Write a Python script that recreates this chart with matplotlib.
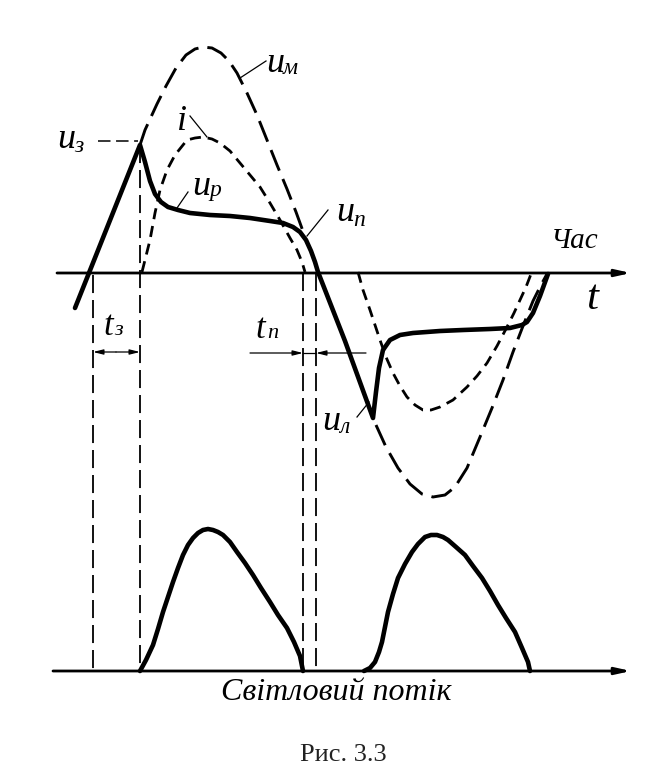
import matplotlib
matplotlib.use('Agg')
import matplotlib.pyplot as plt

plt.rcParams['lines.scale_dashes'] = False
SERIF = ['Liberation Serif', 'DejaVu Serif']

# curves (x = time, y = level, picture units, y grows downwards)
um_up_x = [140, 145, 151, 157, 166, 176, 186, 195, 203, 212, 221, 229, 237, 247, 257, 267, 277, 287, 296, 304]
um_up_y = [145, 130, 117, 104, 86, 68, 55, 49, 47, 48, 53, 61, 73, 93, 115, 140, 165, 189, 212, 234]
um_dn_x = [376, 386, 398, 410, 422, 433, 445, 455, 467, 480, 492, 503, 513, 523, 533, 541, 547]
um_dn_y = [425, 447, 468, 484, 494, 497, 495, 487, 468, 437, 408, 380, 352, 326, 301, 285, 274]

u_x = [75, 140, 145, 150, 155, 161, 168, 178, 190, 210, 230, 250, 270, 283, 293, 300, 306, 311, 315, 318,
       345, 373, 376, 379, 383, 390, 400, 413, 440, 463, 490, 510, 522, 527, 533, 540, 548]
u_y = [308, 145, 162, 181, 194, 202, 207, 210, 213, 215, 216, 218, 221, 223, 227, 232, 240, 251, 262, 272,
       341, 418, 392, 368, 350, 340, 335, 333, 331, 330, 329, 328, 325, 322, 313, 296, 274]

i_up_x = [142, 146, 150, 155, 160, 167, 175, 187, 195, 203, 212, 220, 230, 240, 250, 260, 270, 280, 290, 297, 302, 305]
i_up_y = [272, 256, 240, 213, 190, 170, 155, 140, 138, 137, 139, 143, 151, 163, 175, 187, 203, 220, 238, 250, 262, 272]
i_dn_x = [358, 363, 370, 375, 380, 386, 393, 400, 407, 415, 423, 431, 440, 453, 467, 477, 487, 497, 507, 514, 520, 526, 531]
i_dn_y = [272, 290, 310, 325, 340, 357, 373, 386, 397, 405, 410, 410, 407, 400, 387, 376, 363, 346, 327, 313, 300, 287, 274]

# light flux
f1_x = [140, 146, 153, 158, 163, 168, 173, 178, 183, 188, 193, 198, 203, 208, 213, 218, 223, 230, 237, 245, 253,
        261, 270, 278, 287, 294, 300, 303]
f1_y = [671, 660, 645, 629, 612, 597, 582, 568, 555, 545, 538, 533, 530, 529, 530, 532, 535, 542, 552, 563, 575,
        588, 602, 615, 628, 642, 656, 671]
f2_x = [364, 370, 375, 379, 382, 385, 388, 393, 398, 405, 412, 418, 425, 431, 437, 443, 448, 456, 465, 473, 482,
        490, 498, 506, 515, 522, 528, 530]
f2_y = [671, 668, 662, 652, 642, 627, 612, 594, 578, 564, 552, 544, 537, 535, 535, 537, 540, 547, 555, 566, 578,
        591, 605, 618, 632, 648, 662, 671]

# vertical markers (ignition / extinction moments) and their upper ends
mark_x = [93, 140, 303, 316]
mark_top = [275, 145, 273, 273]
axis_y = [273, 671]

fig = plt.figure(figsize=(6.48, 7.72), dpi=100)
ax = fig.add_axes([0, 0, 1, 1])
ax.set_xlim(0, 648)
ax.set_ylim(772, 0)
ax.axis('off')

# axes with arrows
for ay, x0 in zip(axis_y, [57, 53]):
    ax.annotate('', xy=(631, ay), xytext=(x0, ay),
                arrowprops=dict(arrowstyle='-|>,head_length=0.9,head_width=0.2', lw=2.0, color='k',
                                shrinkA=0, shrinkB=0))

# dashed verticals
for mx, top in zip(mark_x, mark_top):
    ax.plot([mx, mx], [top, axis_y[1]], color='k', lw=1.3, dashes=(13, 5))

# u_z horizontal leader
ax.plot([98, 138], [141, 141], color='k', lw=1.1, dashes=(9, 4))

# curves
ax.plot(um_up_x, um_up_y, color='k', lw=2.1, dashes=(16, 6.5), zorder=3)
ax.plot(um_dn_x, um_dn_y, color='k', lw=2.1, dashes=(16, 6.5), zorder=3)
ax.plot(i_up_x, i_up_y, color='k', lw=2.0, dashes=(8, 5), zorder=3)
ax.plot(i_dn_x, i_dn_y, color='k', lw=2.0, dashes=(8, 5), zorder=3)
ax.plot(u_x, u_y, color='k', lw=3.3, solid_joinstyle='round', solid_capstyle='round', zorder=4)
ax.plot(f1_x, f1_y, color='k', lw=3.3, solid_joinstyle='round', solid_capstyle='round', zorder=4)
ax.plot(f2_x, f2_y, color='k', lw=3.3, solid_joinstyle='round', solid_capstyle='round', zorder=4)

# leader lines
leaders = [((240, 78), (266, 61)), ((190, 116), (207, 137)), ((177, 208), (188, 192)),
           ((307, 236), (328, 210)), ((357, 417), (369, 402))]
for (x0, y0), (x1, y1) in leaders:
    ax.plot([x0, x1], [y0, y1], color='k', lw=0.9)

# t_z and t_p arrows
arr = dict(arrowstyle='-|>,head_length=0.6,head_width=0.15', lw=0.9, color='k', shrinkA=0, shrinkB=0)
ax.annotate('', xy=(93, 352), xytext=(116, 352), arrowprops=arr)
ax.annotate('', xy=(140, 352), xytext=(116, 352), arrowprops=arr)
ax.annotate('', xy=(303, 353), xytext=(250, 353), arrowprops=arr)
ax.annotate('', xy=(316, 353), xytext=(366, 353), arrowprops=arr)
ax.plot([303, 316], [353, 353], color='k', lw=0.9)


def label(x, y, main, sub, size=26, subsize=17, dx=17, dy=2):
    ax.text(x, y, main, fontsize=size, family=SERIF, style='italic', ha='left', va='baseline')
    ax.text(x + dx, y + dy, sub, fontsize=subsize, family=SERIF, style='italic', ha='left', va='baseline')


label(266, 72, 'u', 'м')
ax.text(177, 130, 'i', fontsize=26, family=SERIF, style='italic', ha='left', va='baseline')
label(57, 148, 'u', 'з', dy=4)
label(192, 195, 'u', 'р', dy=1)
label(336, 221, 'u', 'п', dy=5)
label(322, 430, 'u', 'л', dy=3)
label(103, 335, 't', 'з', size=25, subsize=16, dx=11, dy=0)
label(255, 338, 't', 'п', size=25, subsize=16, dx=12, dy=0)

ax.text(575, 241, 'Час', fontsize=21, family=SERIF, style='italic', ha='center', va='center')
ax.text(592, 299, 't', fontsize=31, family=SERIF, style='italic', ha='center', va='center')
ax.text(336, 692, 'Світловий потік', fontsize=23, family=SERIF, style='italic', ha='center', va='center')
ax.text(343, 755, 'Рис. 3.3', fontsize=19, family=SERIF, color='#222222', ha='center', va='center')

fig.savefig('out.png', dpi=100)
